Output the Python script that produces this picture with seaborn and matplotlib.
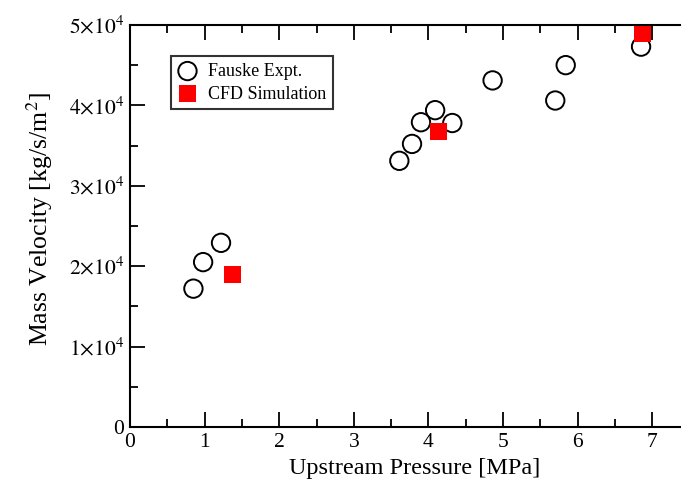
import matplotlib
matplotlib.use("Agg")
import matplotlib.pyplot as plt
import seaborn as sns
import pandas as pd
from matplotlib.ticker import MultipleLocator, FuncFormatter

# Fauske experimental data
expt_pressure = [0.85, 0.98, 1.22, 3.61, 3.78, 3.90, 4.09, 4.32, 4.86, 5.70, 5.84, 6.85]
expt_mass_velocity = [17200, 20500, 22900, 33100, 35200, 37900, 39400, 37800, 43100, 40600, 45000, 47300]

# CFD simulation results
cfd_pressure = [1.38, 4.14, 6.87]
cfd_mass_velocity = [18900, 36700, 48950]

sns.set_theme(style="ticks", rc={
    "text.color": "black",
    "axes.labelcolor": "black",
    "axes.edgecolor": "black",
    "xtick.color": "black",
    "ytick.color": "black",
})
plt.rcParams["font.family"] = ["Liberation Serif", "DejaVu Serif"]
plt.rcParams["mathtext.fontset"] = "stix"

expt = pd.DataFrame({"p": expt_pressure, "g": expt_mass_velocity})
cfd = pd.DataFrame({"p": cfd_pressure, "g": cfd_mass_velocity})

fig = plt.figure(figsize=(6.81, 4.86), dpi=100)
ax = fig.add_axes([0.1909, 0.1215, 0.8370, 0.8272])

sns.scatterplot(data=expt, x="p", y="g", ax=ax, marker="o", s=175,
                facecolor="none", edgecolor="black", linewidth=1.4,
                label="Fauske Expt.")
sns.scatterplot(data=cfd, x="p", y="g", ax=ax, marker="s", s=150,
                color="red", edgecolor="none", linewidth=0,
                label="CFD Simulation")

ax.set_xlim(0, 7.64)
ax.set_ylim(0, 50000)
ax.xaxis.set_major_locator(MultipleLocator(1))
ax.xaxis.set_minor_locator(MultipleLocator(0.5))
ax.yaxis.set_major_locator(MultipleLocator(10000))
ax.yaxis.set_minor_locator(MultipleLocator(5000))


def sci_fmt(v, pos):
    if v == 0:
        return "0"
    return r"$%d{\times}10^{4}$" % round(v / 10000)


ax.yaxis.set_major_formatter(FuncFormatter(sci_fmt))

ax.tick_params(which="both", direction="in", top=True, right=True,
               labelsize=15.5, width=1.3, pad=4)
ax.tick_params(which="major", length=11)
ax.tick_params(which="minor", length=6)
for sp in ax.spines.values():
    sp.set_linewidth(1.5)

ax.set_xlabel("Upstream Pressure [MPa]", fontsize=17.5, labelpad=5)
ax.set_ylabel(r"Mass Velocity [kg/s/m$^{2}$]", fontsize=18.5)
ax.yaxis.set_label_coords(-0.131, 0.518)

leg = ax.legend(loc="upper left", bbox_to_anchor=(0.0720, 0.922),
                borderaxespad=0, fontsize=13, frameon=True, fancybox=False,
                handletextpad=0.6, borderpad=0.36, labelspacing=0.32,
                handlelength=1.1)
leg.get_frame().set_edgecolor("black")
leg.get_frame().set_linewidth(1.5)

fig.savefig("out.png", dpi=100)
